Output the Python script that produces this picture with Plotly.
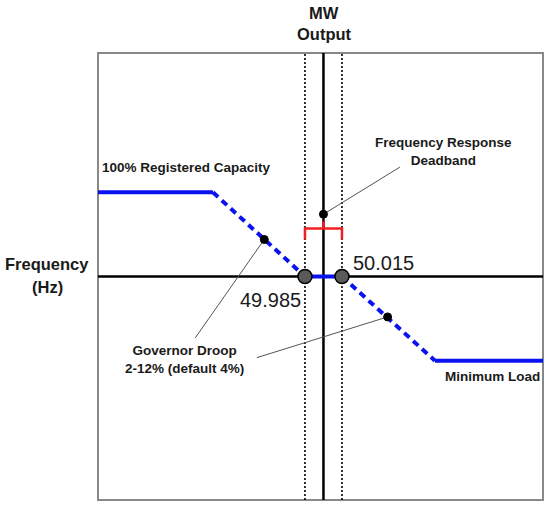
import plotly.graph_objects as go

# frequency (Hz) on the horizontal, MW output change (% of range) on the vertical
freq_range = [49.8172, 50.178]
mw_range = [-265.5, 265.5]

deadband = [49.985, 50.015]
nominal_freq = 50.0

# droop characteristic corner points
curve_freq = [49.8172, 49.9104, 49.985, 50.015, 50.0904, 50.178]
curve_mw = [100, 100, 0, 0, -100, -100]

# red deadband bracket
bracket_freq = [49.985, 49.985, 50.015, 50.015, None, 50.0, 50.0]
bracket_mw = [44, 57, 57, 44, None, 57, 65.5]

# callout leader lines: (dot, label end)
deadband_call_freq = [50.0, 50.062]
deadband_call_mw = [74, 130]
droop_call1_freq = [49.952, 49.896]
droop_call1_mw = [44, -73]
droop_call2_freq = [50.052, 49.946]
droop_call2_mw = [-48, -96.4]

BLUE = "#0a12f0"
FONT = "Liberation Sans, Arial, sans-serif"

fig = go.Figure()

# frequency axis line and MW axis line
fig.add_trace(go.Scatter(x=freq_range, y=[0, 0], mode="lines",
                         line=dict(color="black", width=2.5), hoverinfo="skip"))
for f in deadband:
    fig.add_trace(go.Scatter(x=[f, f], y=mw_range, mode="lines",
                             line=dict(color="black", width=1.6, dash="2px,2px"), hoverinfo="skip"))
fig.add_trace(go.Scatter(x=[nominal_freq, nominal_freq], y=mw_range, mode="lines",
                         line=dict(color="black", width=2.5), hoverinfo="skip"))

# droop curve: solid flat parts, dashed slopes
for i in range(len(curve_freq) - 1):
    dashed = curve_mw[i] != curve_mw[i + 1]
    fig.add_trace(go.Scatter(
        x=curve_freq[i:i + 2], y=curve_mw[i:i + 2], mode="lines",
        line=dict(color=BLUE, width=4, dash="7px,5px" if dashed else "solid"),
        hoverinfo="skip"))

fig.add_trace(go.Scatter(x=bracket_freq, y=bracket_mw, mode="lines",
                         line=dict(color="#f02020", width=2.5), hoverinfo="skip"))

calls = [(deadband_call_freq, deadband_call_mw),
         (droop_call1_freq, droop_call1_mw),
         (droop_call2_freq, droop_call2_mw)]
for fx, fy in calls:
    fig.add_trace(go.Scatter(x=fx, y=fy, mode="lines",
                             line=dict(color="#555555", width=1), hoverinfo="skip"))
fig.add_trace(go.Scatter(x=[c[0][0] for c in calls], y=[c[1][0] for c in calls],
                         mode="markers", marker=dict(size=8, color="black",
                                                     line=dict(color="black", width=1)),
                         hoverinfo="skip"))

# deadband edge points
fig.add_trace(go.Scatter(x=deadband, y=[0, 0], mode="markers",
                         marker=dict(size=14, color="#5a5a5a",
                                     line=dict(color="black", width=1.5)),
                         hoverinfo="skip"))

bold = dict(family=FONT, size=13.5, color="#1a1a1a")
big = dict(family=FONT, size=16.5, color="#1a1a1a")
num = dict(family=FONT, size=20, color="#1a1a1a")
anns = [
    dict(x=0.508, y=(500 - 14) / 446, xref="paper", yref="paper", text="<b>MW</b>", font=big),
    dict(x=0.508, y=(500 - 35) / 446, xref="paper", yref="paper", text="<b>Output</b>", font=big),
    dict(x=(47 - 98) / 445, y=(500 - 265) / 446, xref="paper", yref="paper",
         text="<b>Frequency</b>", font=big),
    dict(x=(47 - 98) / 445, y=(500 - 287) / 446, xref="paper", yref="paper",
         text="<b>(Hz)</b>", font=big),
    dict(x=curve_freq[0], y=curve_mw[0], text="<b>100% Registered Capacity</b>",
         xanchor="left", xshift=2, yshift=25, font=bold),
    dict(x=curve_freq[-1], y=curve_mw[-1], text="<b>Minimum Load</b>",
         xanchor="right", xshift=-1, yshift=-16, font=bold),
    dict(x=50.097, y=149, text="<b>Frequency Response<br>Deadband</b>", font=bold),
    dict(x=49.8877, y=-99, text="<b>Governor Droop<br>2-12% (default 4%)</b>", font=bold),
    dict(x=deadband[1], y=0, text=f"{deadband[1]:.3f}", xanchor="left", xshift=9, yshift=14,
         font=num),
    dict(x=deadband[0], y=0, text=f"{deadband[0]:.3f}", xanchor="right", xshift=-2, yshift=-23,
         font=num),
]
for a in anns:
    a.setdefault("showarrow", False)
    a.setdefault("xanchor", "center")
    a.setdefault("yanchor", "middle")

fig.update_layout(
    width=550, height=507,
    margin=dict(l=98, r=7, t=53, b=7),
    plot_bgcolor="white", paper_bgcolor="white",
    showlegend=False,
    xaxis=dict(range=freq_range, visible=False, showgrid=False, zeroline=False),
    yaxis=dict(range=mw_range, visible=False, showgrid=False, zeroline=False),
    annotations=anns,
    shapes=[dict(type="rect", xref="paper", yref="paper", x0=0, x1=1, y0=0, y1=1,
                 line=dict(color="#888888", width=2), layer="below")],
)

# page body has a default margin; drop it so the figure sits at the window corner
fig.write_html("out.html", config={"displayModeBar": False},
               post_script="document.body.style.margin='0px';")
